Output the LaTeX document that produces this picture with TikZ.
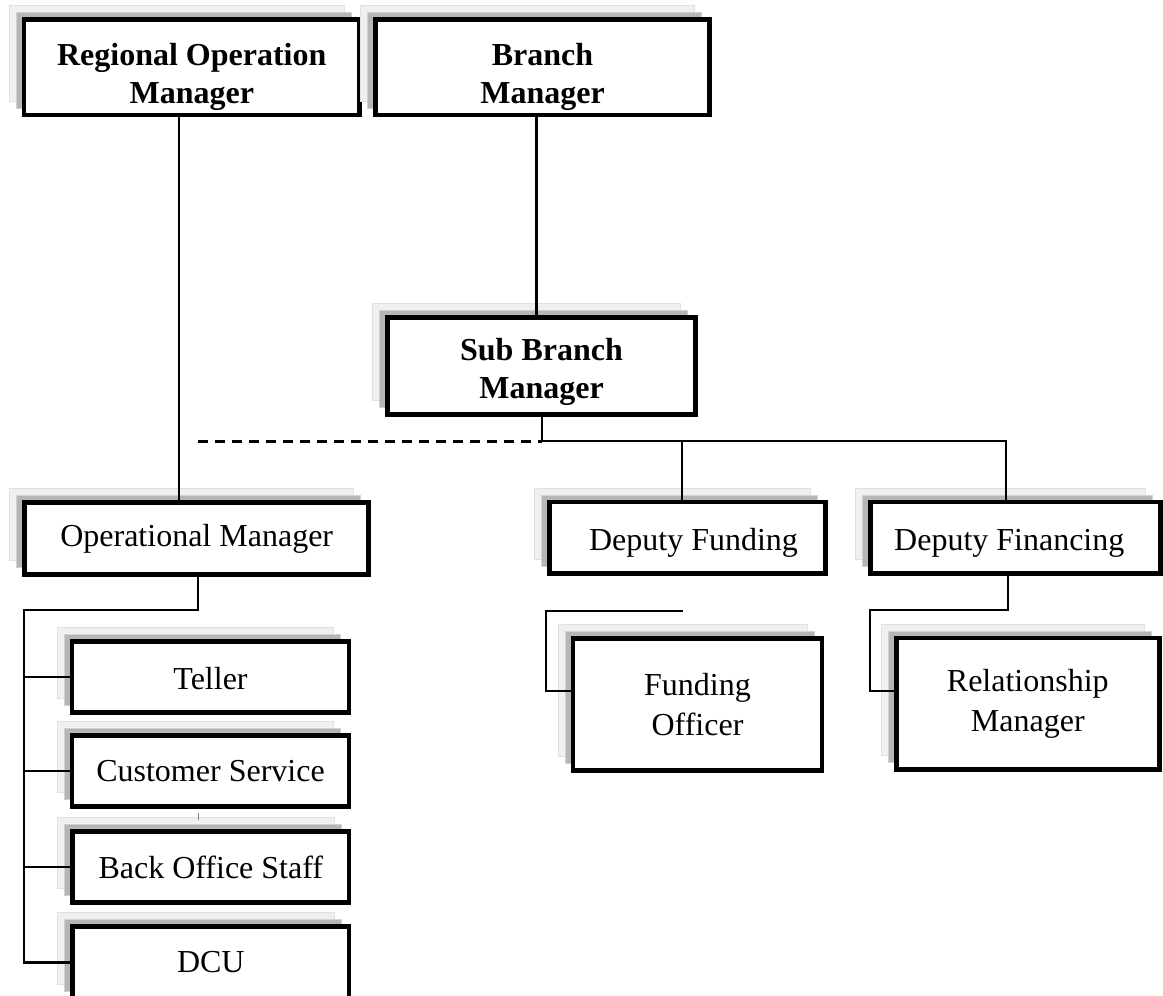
\documentclass[tikz,border=0pt]{standalone}
\usepackage{fontspec}
\setmainfont{Liberation Serif}
\usetikzlibrary{shadows,calc}
\definecolor{shlight}{HTML}{F0F0F0}
\definecolor{shlightline}{HTML}{E0E0E0}
\definecolor{shgray}{HTML}{B6B6B6}
\definecolor{shgrayline}{HTML}{D2D2D2}
\newcommand{\lowtext}[3][0pt]{\raisebox{-#2}[\height][\depth]{\hspace*{#1}\begin{tabular}{@{}c@{}}#3\end{tabular}}}
\tikzset{
 orgbox/.style={draw=black, line width=4.5pt, fill=white, inner sep=0pt, align=center,
   font=\fontsize{32}{40}\selectfont,
   general shadow={fill=shlight, draw=shlightline, line width=1pt, shadow xshift=-15pt, shadow yshift=14pt},
   general shadow={fill=shgray, draw=shgrayline, line width=1pt, shadow xshift=-8pt, shadow yshift=7pt}},
 boldbox/.style={orgbox, font=\fontsize{32}{38}\selectfont\bfseries},
 link/.style={line width=2.5pt, draw=black},
 dashlink/.style={line width=3pt, draw=black, dash pattern=on 10pt off 7pt},
}
\begin{document}
\begin{tikzpicture}[x=1pt,y=-1pt]
\useasboundingbox (0,0) rectangle (1163,996);
% boxes
\node[boldbox, minimum width=335.5pt, minimum height=95.5pt] (rom) at (191.75,67.25) {\lowtext{10pt}{Regional Operation\\Manager}};
\node[boldbox, minimum width=334pt, minimum height=95.5pt] (bm) at (542.5,67.25) {\lowtext{10pt}{Branch\\Manager}};
\node[boldbox, minimum width=308pt, minimum height=97pt] (sbm) at (541.5,366) {\lowtext{6pt}{Sub Branch\\Manager}};
\node[orgbox, minimum width=344pt, minimum height=72pt] (om) at (196.7,538.7) {Operational Manager};
\node[orgbox, minimum width=276.7pt, minimum height=71.4pt] (teller) at (210.5,677) {\lowtext{4pt}{Teller}};
\node[orgbox, minimum width=276.7pt, minimum height=71.4pt] (cs) at (210.5,771) {Customer Service};
\node[orgbox, minimum width=276.7pt, minimum height=71.4pt] (bos) at (210.8,867) {Back Office Staff};
\node[orgbox, minimum width=276.7pt, minimum height=72pt] (dcu) at (210.8,962.3) {DCU};
\node[orgbox, minimum width=275.6pt, minimum height=71.7pt] (df) at (687.5,537.85) {\lowtext[12pt]{5pt}{Deputy Funding}};
\node[orgbox, minimum width=290pt, minimum height=71.7pt] (dfin) at (1015.3,537.85) {\lowtext[-12pt]{5pt}{Deputy Financing}};
\node[orgbox, minimum width=249pt, minimum height=131.6pt] (fo) at (697.5,704.5) {Funding\\Officer};
\node[orgbox, minimum width=263pt, minimum height=131.3pt] (rm) at (1027.8,703.7) {Relationship\\Manager};
% connectors
\draw[link] (179,0 |- rom.south) -- (179,0 |- om.north);
\draw[link] (536.5,0 |- bm.south) -- (536.5,0 |- sbm.north);
\coordinate (sbmjoin) at (542,441);
\draw[link] (542,0 |- sbm.south) -- (sbmjoin) -| (1006,0 |- dfin.north);
\draw[link] (682,441) -- (682,0 |- df.north);
\coordinate (dashend) at (198,441);
\draw[dashlink] (dashend) -- (sbmjoin);
\coordinate (omdrop) at (198,610);
\draw[link] (198,0 |- om.south) -- (omdrop) -| (24,0 |- dcu.west) -- (dcu.west);
\draw[link] (24,0 |- teller.west) -- (teller.west);
\draw[link] (24,0 |- cs.west) -- (cs.west);
\draw[link] (24,0 |- bos.west) -- (bos.west);
\coordinate (dfstub) at (683,611);
\draw[link] (dfstub) -| (546,691) -- (fo.west |- 0,691);
\draw[link] (1008,0 |- dfin.south) -- (1008,610) -| (870,691) -- (rm.west |- 0,691);
\coordinate (tick) at (198,813);
\draw[gray, line width=1pt] (tick) -- ++(0,7);
\end{tikzpicture}
\end{document}
